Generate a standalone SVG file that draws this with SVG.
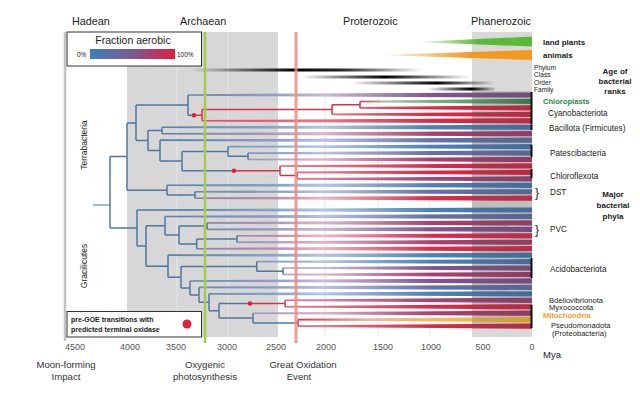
<svg xmlns="http://www.w3.org/2000/svg" width="640" height="395" viewBox="0 0 640 395">
<style>
text{font-family:"Liberation Sans",Arial,sans-serif;fill:#222}
.era{font-size:10.8px}
.ax{font-size:9px;fill:#555;text-anchor:middle}
.ev{font-size:9.6px;fill:#333;text-anchor:middle}
.lb{font-size:8.2px}
.ls{font-size:7.6px}
.rk{font-size:6.6px}
.bd{font-weight:bold}
.br{fill:none;stroke:#4f77a0;stroke-width:1.5}
.rd{fill:none;stroke:#d8324a;stroke-width:1.5}
.grid{stroke:#e6e6e6;stroke-width:1}
</style>
<defs>
<linearGradient id="legG"><stop offset="0" stop-color="#3c7fba"/><stop offset=".5" stop-color="#7b5a92"/><stop offset="1" stop-color="#e31c3a"/></linearGradient>
<linearGradient id="gBB" gradientUnits="userSpaceOnUse" x1="130" y1="0" x2="532" y2="0"><stop offset="0" stop-color="#4f77a0"/><stop offset=".37" stop-color="#86a6cc"/><stop offset=".48" stop-color="#b4c8e2"/><stop offset=".75" stop-color="#4c7fb6"/><stop offset="1" stop-color="#3f73ad"/></linearGradient>
<linearGradient id="gBV" gradientUnits="userSpaceOnUse" x1="130" y1="0" x2="532" y2="0"><stop offset="0" stop-color="#4f77a0"/><stop offset=".37" stop-color="#8ea0c8"/><stop offset=".48" stop-color="#bcc2de"/><stop offset=".75" stop-color="#6470a8"/><stop offset="1" stop-color="#5b6aa3"/></linearGradient>
<linearGradient id="gBP" gradientUnits="userSpaceOnUse" x1="130" y1="0" x2="532" y2="0"><stop offset="0" stop-color="#4f77a0"/><stop offset=".37" stop-color="#9a9cc6"/><stop offset=".48" stop-color="#c8bcd8"/><stop offset=".75" stop-color="#80548f"/><stop offset="1" stop-color="#7a4c86"/></linearGradient>
<linearGradient id="gBM" gradientUnits="userSpaceOnUse" x1="130" y1="0" x2="532" y2="0"><stop offset="0" stop-color="#4f77a0"/><stop offset=".37" stop-color="#b49ac0"/><stop offset=".48" stop-color="#dcb6ca"/><stop offset=".75" stop-color="#a93e70"/><stop offset="1" stop-color="#a23566"/></linearGradient>
<linearGradient id="gBR" gradientUnits="userSpaceOnUse" x1="130" y1="0" x2="532" y2="0"><stop offset="0" stop-color="#4f77a0"/><stop offset=".37" stop-color="#c88aa8"/><stop offset=".48" stop-color="#efb4c0"/><stop offset=".75" stop-color="#d82d4a"/><stop offset="1" stop-color="#d52342"/></linearGradient>
<linearGradient id="gRR" gradientUnits="userSpaceOnUse" x1="130" y1="0" x2="532" y2="0"><stop offset="0" stop-color="#d8324a"/><stop offset=".48" stop-color="#ea7486"/><stop offset=".75" stop-color="#d82a48"/><stop offset="1" stop-color="#d41f3d"/></linearGradient>
<linearGradient id="gRM" gradientUnits="userSpaceOnUse" x1="130" y1="0" x2="532" y2="0"><stop offset="0" stop-color="#d8324a"/><stop offset=".48" stop-color="#e27c94"/><stop offset=".75" stop-color="#a0447a"/><stop offset="1" stop-color="#8f3d70"/></linearGradient>
<linearGradient id="gRG"><stop offset="0" stop-color="#d8324a"/><stop offset=".15" stop-color="#9fc49a"/><stop offset="1" stop-color="#2b8a3e"/></linearGradient>
<linearGradient id="gRY"><stop offset="0" stop-color="#d8324a"/><stop offset=".3" stop-color="#f0b8a0"/><stop offset="1" stop-color="#f2b418"/></linearGradient>
<linearGradient id="gPhy"><stop offset="0" stop-color="#000" stop-opacity="0"/><stop offset=".45" stop-color="#000"/><stop offset=".65" stop-color="#000" stop-opacity=".85"/><stop offset="1" stop-color="#000" stop-opacity="0"/></linearGradient>
<linearGradient id="gCla"><stop offset="0" stop-color="#000" stop-opacity="0"/><stop offset=".5" stop-color="#000"/><stop offset="1" stop-color="#000" stop-opacity="0"/></linearGradient>
<linearGradient id="gOrd"><stop offset="0" stop-color="#000" stop-opacity="0"/><stop offset=".6" stop-color="#000"/><stop offset="1" stop-color="#000" stop-opacity="0"/></linearGradient>
<linearGradient id="gFam"><stop offset="0" stop-color="#000" stop-opacity="0"/><stop offset=".65" stop-color="#000"/><stop offset="1" stop-color="#000" stop-opacity=".1"/></linearGradient>
<linearGradient id="gPl"><stop offset="0" stop-color="#5cb83a" stop-opacity="0"/><stop offset=".55" stop-color="#5cb83a"/><stop offset="1" stop-color="#5cb83a"/></linearGradient>
<linearGradient id="gAn"><stop offset="0" stop-color="#f29a1e" stop-opacity="0"/><stop offset=".6" stop-color="#f29a1e"/><stop offset="1" stop-color="#f29a1e"/></linearGradient>
</defs>
<rect width="640" height="395" fill="#fff"/>
<g id="time-periods">
<rect x="127" y="32" width="151" height="305" fill="#d7d7d7"/>
<rect x="472" y="32" width="60" height="305" fill="#d9d9d9"/>
<line class="grid" x1="177" y1="67" x2="177" y2="337" stroke="#e2e2e2"/>
<line class="grid" x1="228" y1="32" x2="228" y2="337" stroke="#e2e2e2"/>
<line class="grid" x1="325" y1="92" x2="325" y2="337"/>
<line class="grid" x1="378" y1="92" x2="378" y2="337"/>
<line class="grid" x1="430" y1="92" x2="430" y2="337"/>
<line x1="65" y1="32" x2="65" y2="341" stroke="#c4c4c4" stroke-width="2.5"/>
</g>
<g id="rank-ages">
<rect x="190" y="68.5" width="232" height="3" fill="url(#gPhy)"/>
<rect x="300" y="75.5" width="170" height="3" fill="url(#gCla)"/>
<rect x="350" y="81.5" width="145" height="3" fill="url(#gOrd)"/>
<rect x="427" y="87.5" width="68" height="3" fill="url(#gFam)"/>
<polygon points="415,42 532,36.5 532,46.5" fill="url(#gPl)"/>
<polygon points="378,55 532,50 532,60" fill="url(#gAn)"/>
</g>
<g id="lineages">
<polygon transform="translate(0,95)" points="188,-.8 532,-2.6 532,2.6 188,.8" fill="url(#gBP)"/>
<polygon transform="translate(0,101.45)" points="360,-.8 532,-2.6 532,2.6 360,.8" fill="url(#gRG)"/>
<polygon transform="translate(0,107.9)" points="360,-.8 532,-2.6 532,2.6 360,.8" fill="url(#gRR)"/>
<polygon transform="translate(0,114.35)" points="332,-.8 532,-2.6 532,2.6 332,.8" fill="url(#gRR)"/>
<polygon transform="translate(0,120.8)" points="202,-.8 532,-2.6 532,2.6 202,.8" fill="url(#gRR)"/>
<polygon transform="translate(0,127.25)" points="162,-.8 532,-2.6 532,2.6 162,.8" fill="url(#gBB)"/>
<polygon transform="translate(0,133.7)" points="162,-.8 532,-2.6 532,2.6 162,.8" fill="url(#gBM)"/>
<polygon transform="translate(0,140.15)" points="160,-.8 532,-2.6 532,2.6 160,.8" fill="url(#gBV)"/>
<polygon transform="translate(0,146.6)" points="228,-.8 532,-2.6 532,2.6 228,.8" fill="url(#gBB)"/>
<polygon transform="translate(0,153.05)" points="248,-.8 532,-2.6 532,2.6 248,.8" fill="url(#gBV)"/>
<polygon transform="translate(0,159.5)" points="248,-.8 532,-2.6 532,2.6 248,.8" fill="url(#gBM)"/>
<polygon transform="translate(0,165.95)" points="280,-.8 532,-2.6 532,2.6 280,.8" fill="url(#gRR)"/>
<polygon transform="translate(0,172.4)" points="297,-.8 532,-2.6 532,2.6 297,.8" fill="url(#gRR)"/>
<polygon transform="translate(0,178.85)" points="297,-.8 532,-2.6 532,2.6 297,.8" fill="url(#gRM)"/>
<polygon transform="translate(0,185.3)" points="167,-.8 532,-2.6 532,2.6 167,.8" fill="url(#gBB)"/>
<polygon transform="translate(0,191.75)" points="195,-.8 532,-2.6 532,2.6 195,.8" fill="url(#gBV)"/>
<polygon transform="translate(0,198.2)" points="195,-.8 532,-2.6 532,2.6 195,.8" fill="url(#gBR)"/>
<polygon transform="translate(0,210)" points="137,-.8 532,-2.6 532,2.6 137,.8" fill="url(#gBB)"/>
<polygon transform="translate(0,216.45)" points="165,-.8 532,-2.6 532,2.6 165,.8" fill="url(#gBV)"/>
<polygon transform="translate(0,222.9)" points="207,-.8 532,-2.6 532,2.6 207,.8" fill="url(#gBM)"/>
<polygon transform="translate(0,229.35)" points="207,-.8 532,-2.6 532,2.6 207,.8" fill="url(#gBP)"/>
<polygon transform="translate(0,235.8)" points="237,-.8 532,-2.6 532,2.6 237,.8" fill="url(#gBR)"/>
<polygon transform="translate(0,242.25)" points="237,-.8 532,-2.6 532,2.6 237,.8" fill="url(#gBM)"/>
<polygon transform="translate(0,248.7)" points="196.7,-.8 532,-2.6 532,2.6 196.7,.8" fill="url(#gBR)"/>
<polygon transform="translate(0,255.15)" points="168,-.8 532,-2.6 532,2.6 168,.8" fill="url(#gBB)"/>
<polygon transform="translate(0,261.6)" points="256.7,-.8 532,-2.6 532,2.6 256.7,.8" fill="url(#gBB)"/>
<polygon transform="translate(0,268.05)" points="283,-.8 532,-2.6 532,2.6 283,.8" fill="url(#gBP)"/>
<polygon transform="translate(0,274.5)" points="283,-.8 532,-2.6 532,2.6 283,.8" fill="url(#gBM)"/>
<polygon transform="translate(0,280.95)" points="190,-.8 532,-2.6 532,2.6 190,.8" fill="url(#gBP)"/>
<polygon transform="translate(0,287.4)" points="199,-.8 532,-2.6 532,2.6 199,.8" fill="url(#gBV)"/>
<polygon transform="translate(0,293.85)" points="209,-.8 532,-2.6 532,2.6 209,.8" fill="url(#gBB)"/>
<polygon transform="translate(0,300.3)" points="285,-.8 532,-2.6 532,2.6 285,.8" fill="url(#gRM)"/>
<polygon transform="translate(0,306.75)" points="285,-.8 532,-2.6 532,2.6 285,.8" fill="url(#gRR)"/>
<polygon transform="translate(0,313.2)" points="253,-.8 532,-2.6 532,2.6 253,.8" fill="url(#gBM)"/>
<polygon transform="translate(0,319.65)" points="298,-.8 532,-2.6 532,2.6 298,.8" fill="url(#gRY)"/>
<polygon transform="translate(0,326.1)" points="298,-.8 532,-2.6 532,2.6 298,.8" fill="url(#gRR)"/>
<rect x="472" y="91" width="60" height="238" fill="#555" opacity=".2"/>
<g fill="#111">
<rect x="530.5" y="92" width="2" height="32"/>
<rect x="530.5" y="124.5" width="2" height="5.5"/>
<rect x="530.5" y="145" width="2" height="12"/>
<rect x="530.5" y="169" width="2" height="9"/>
<rect x="530.5" y="258" width="2" height="20"/>
<rect x="530.5" y="305" width="2" height="23"/>
</g>
</g>
<g id="connectors">
<path d="M93,205H110" fill="none" stroke="#7fa6c8" stroke-width="1.5"/>
<path class="br" d="M110,156.5V228M110,156.5H127M110,228H137M127,122.9V190.2M127,122.9H136M127,190.2H167M136,105.1V140.6M136,105.1H188M136,140.6H148M188,95V115.2M188,115.2H194M148,130.5V150.6M148,130.5H162M148,150.6H160M162,127.25V133.7M160,140.15V161.1M160,161.1H182M182,151.4V170.8M182,151.4H228M182,170.8H234M228,146.6V156.3M228,156.3H248M248,153.05V159.5M167,185.3V195M167,195H195M195,191.75V198.2"/>
<path class="br" d="M137,210V246M137,246H146M146,225.7V266.2M146,225.7H165M146,266.2H168M165,216.45V235M165,235H179M179,226.1V243.9M179,226.1H207M179,243.9H196.7M207,222.9V229.35M196.7,239V248.7M196.7,239H237M237,235.8V242.25M168,255.15V277.2M168,277.2H181M181,266.4V287.9M181,266.4H256.7M181,287.9H190M256.7,261.6V271.3M256.7,271.3H283M283,268.05V274.5M190,280.95V294.9M190,294.9H199M199,287.4V302.3M199,302.3H209M209,293.85V310.8M209,310.8H219M219,303.5V318M219,303.5H250M219,318H253M253,313.2V322.9M253,322.9H298"/>
<path class="rd" d="M194,115.2H202M202,109.5V120.8M202,109.5H332M332,104.7V114.35M332,104.7H360M360,101.45V107.9M234,170.8H280M280,165.95V175.6M280,175.6H297M297,172.4V178.85M250,303.5H285M285,300.3V306.75M298,319.65V326.1"/>
</g>
<g id="events">
<line x1="205" y1="32" x2="205" y2="343" stroke="#a5cc52" stroke-width="2.5"/>
<line x1="296" y1="32" x2="296" y2="343" stroke="#ee8c84" stroke-width="3" opacity=".85"/>
</g>
<g id="transitions" fill="#e0203a">
<circle cx="194" cy="115.2" r="2.3"/>
<circle cx="234" cy="170.8" r="2.3"/>
<circle cx="250" cy="303.5" r="2.3"/>
</g>
<g id="legend-aerobic">
<rect x="67" y="32" width="134.5" height="34" fill="#fff" stroke="#333" stroke-width="1"/>
<text x="133" y="44" font-size="10.5" text-anchor="middle">Fraction aerobic</text>
<rect x="90" y="49" width="85" height="10" fill="url(#legG)"/>
<text x="77" y="57" font-size="6.5">0%</text>
<text x="177" y="57" font-size="6.5">100%</text>
</g>
<g id="legend-transitions">
<rect x="67" y="311.5" width="134.5" height="25.5" fill="#fff" stroke="#333" stroke-width="1"/>
<text x="71" y="322" font-size="7" class="bd">pre-GOE transitions with</text>
<text x="71" y="332" font-size="7" class="bd">predicted terminal oxidase</text>
<circle cx="187" cy="324" r="4.5" fill="#e0203a"/>
</g>
<g id="eras">
<text class="era" x="72" y="25">Hadean</text>
<text class="era" x="180" y="25">Archaean</text>
<text class="era" x="343" y="25">Proterozoic</text>
<text class="era" x="471" y="25">Phanerozoic</text>
</g>
<g id="axis">
<text class="ax" x="75" y="350">4500</text>
<text class="ax" x="130" y="350">4000</text>
<text class="ax" x="176" y="350">3500</text>
<text class="ax" x="227" y="350">3000</text>
<text class="ax" x="276" y="350">2500</text>
<text class="ax" x="326" y="350">2000</text>
<text class="ax" x="383" y="350">1500</text>
<text class="ax" x="431" y="350">1000</text>
<text class="ax" x="483" y="350">500</text>
<text class="ax" x="532" y="350">0</text>
<text x="543" y="358" font-size="9.5">Mya</text>
<text class="ev" x="66" y="368">Moon-forming</text>
<text class="ev" x="66" y="380">Impact</text>
<text class="ev" x="205" y="368">Oxygenic</text>
<text class="ev" x="205" y="380">photosynthesis</text>
<text class="ev" x="303" y="368">Great Oxidation</text>
<text class="ev" x="299" y="380">Event</text>
</g>
<g id="clades">
<text x="87" y="145" font-size="8.5" text-anchor="middle" transform="rotate(-90 87 145)">Terrabacteria</text>
<text x="87" y="266" font-size="8.5" text-anchor="middle" transform="rotate(-90 87 266)">Gracilicutes</text>
</g>
<g id="labels">
<text x="543" y="45" font-size="8" class="bd">land plants</text>
<text x="543" y="58" font-size="8" class="bd">animals</text>
<text x="534" y="69.5" class="rk">Phylum</text>
<text x="534" y="77" class="rk">Class</text>
<text x="534" y="84.5" class="rk">Order</text>
<text x="534" y="92" class="rk">Family</text>
<text x="615" y="74" font-size="8" class="bd" text-anchor="middle">Age of</text>
<text x="615" y="84" font-size="8" class="bd" text-anchor="middle">bacterial</text>
<text x="615" y="94" font-size="8" class="bd" text-anchor="middle">ranks</text>
<text x="543" y="104" class="ls bd" style="fill:#2a8a4a">Chloroplasts</text>
<text x="548" y="115.5" class="lb">Cyanobacteriota</text>
<text x="549" y="130.5" class="lb">Bacillota (Firmicutes)</text>
<text x="550" y="156" class="lb">Patescibacteria</text>
<text x="550" y="179" class="lb">Chloroflexota</text>
<text x="535" y="196.5" font-size="12">}</text>
<text x="550" y="195" class="lb">DST</text>
<text x="613" y="197" font-size="8" class="bd" text-anchor="middle">Major</text>
<text x="613" y="208" font-size="8" class="bd" text-anchor="middle">bacterial</text>
<text x="613" y="219" font-size="8" class="bd" text-anchor="middle">phyla</text>
<text x="535" y="233.5" font-size="12">}</text>
<text x="550" y="232" class="lb">PVC</text>
<text x="550" y="272" class="lb">Acidobacteriota</text>
<text x="549" y="302.5" class="ls">Bdellovibrionota</text>
<text x="549" y="310" class="ls">Myxococcota</text>
<text x="543" y="317.5" class="ls bd" style="fill:#f0a030">Mitochondria</text>
<text x="551" y="327.5" class="ls">Pseudomonadota</text>
<text x="552" y="335.5" class="ls">(Proteobacteria)</text>
</g>
</svg>
